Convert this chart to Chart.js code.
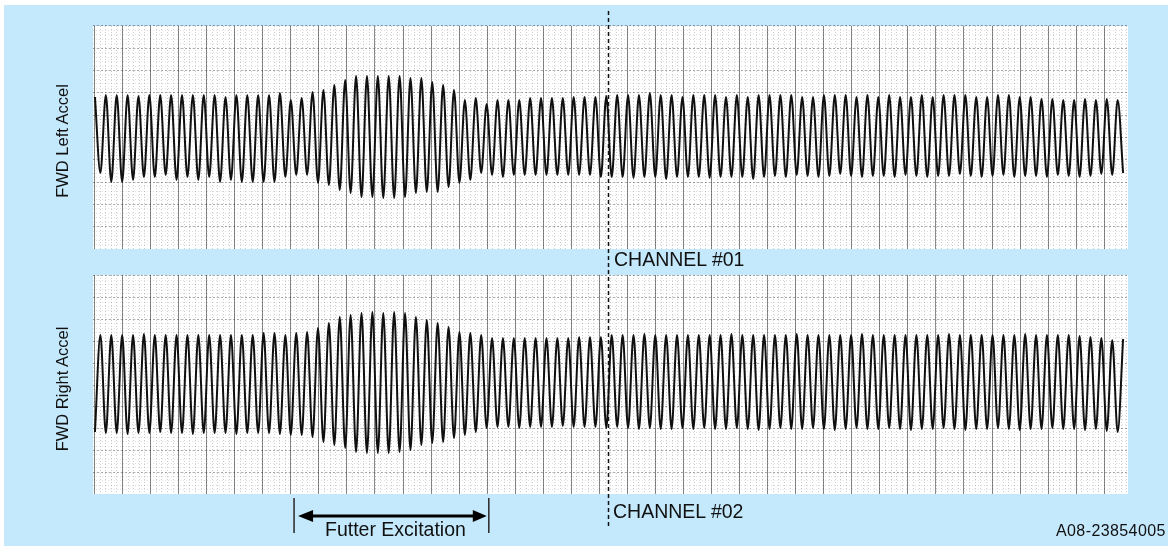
<!DOCTYPE html>
<html>
<head>
<meta charset="utf-8">
<title>FWD Accel flutter excitation</title>
<script src="https://cdn.jsdelivr.net/npm/chart.js@4"></script>
<style>
  body { margin: 0; background: #fff; width: 1168px; height: 546px; overflow: hidden; position: relative; font-family: "Liberation Sans", Arial, sans-serif; color: #111; }
  #bg { position: absolute; left: 4px; top: 5px; width: 1164px; height: 541px; background: #c5e9fc; }
  canvas { position: absolute; left: 0; }
  .lbl { position: absolute; white-space: nowrap; line-height: 1; }
  .ylbl { position: absolute; white-space: nowrap; line-height: 1; font-size: 16.5px; transform: translate(-50%, -50%) rotate(-90deg); }
</style>
</head>
<body>
<div id="bg"></div>
<canvas id="chTop" width="1168" height="270" style="top:0"></canvas>
<canvas id="chBottom" width="1168" height="276" style="top:270px"></canvas>

<div class="ylbl" style="left:61.5px; top:141px">FWD Left Accel</div>
<div class="ylbl" style="left:61.5px; top:389px">FWD Right Accel</div>
<div class="lbl" style="left:614px; top:250px; font-size:19.5px">CHANNEL #01</div>
<div class="lbl" style="left:613px; top:502px; font-size:19.5px">CHANNEL #02</div>
<div class="lbl" style="left:325px; top:520px; font-size:19.5px">Futter Excitation</div>
<div class="lbl" style="left:1056px; top:523px; font-size:16px; letter-spacing:0.4px">A08-23854005</div>

<script>
// one value per oscillation cycle (offset from the trace centre line)
const PEAKS_LEFT = [
  40, 42, 42, 42, 41, 42, 42, 42, 42, 42, 42, 42, 40, 42, 42, 42, 42,
  44, 37, 39, 45, 47, 52, 57, 61, 61, 61, 61, 61,
  59, 59, 55, 52, 47, 37, 39, 33,
  37, 37, 37, 39, 39, 39, 39, 40, 40, 40, 41, 42, 42, 42, 44, 42, 42, 40,
  42, 42, 42, 40, 42, 40, 42, 42,
  42, 42, 40, 40, 42, 42, 42, 40, 42, 40, 42, 40, 40, 42, 40, 42, 42, 42, 40, 40, 42, 42, 40, 40, 38, 38,
  37, 37, 38, 37, 38, 37
];
const TROUGHS_LEFT = [
  -36, -45, -45, -43, -40, -40, -38, -43, -40, -43, -40, -45, -43, -45, -45, -45, -45, -40, -38, -38, -46, -48, -53, -56, -60, -60,
  -61, -61, -60, -56, -55, -55, -50, -46, -43, -36, -38,
  -40, -38, -38, -38, -38, -38, -38, -38, -38, -40,
  -40, -40, -41, -40, -40, -42, -40, -40, -40, -41, -40, -40, -40, -42, -40,
  -39, -40, -38, -39, -40, -39, -37, -39, -40, -39, -39, -40, -38, -39, -40, -39, -39, -37, -39, -40, -39, -38, -40, -39, -39, -40, -38, -39, -40, -39, -37, -38, -36
];
const TROUGHS_RIGHT = [
  -48, -49, -49, -50, -49, -49, -48, -49, -49, -50, -49, -49, -49, -50, -49, -49, -49, -50,
  -51, -51, -53, -58, -61, -64, -68, -69, -69, -69, -68,
  -66, -61, -59, -58, -54, -51, -48, -44,
  -43, -43, -44, -43, -43, -43, -42, -43, -43, -43, -44, -43,
  -44, -45, -44, -45, -45, -44, -45, -44, -45, -45,
  -44, -45, -46, -45, -44, -45, -45, -44, -45, -46,
  -45, -44, -45, -45, -44, -45, -46, -45, -45, -44,
  -45, -46, -45, -45, -44, -45, -46, -45, -45, -44,
  -45, -45, -46, -45, -47, -48
];
const PEAKS_RIGHT = [
  49, 49, 49, 49, 50, 49, 49, 49, 49, 49, 49, 49, 49, 49, 49,
  51, 51, 49, 51, 52, 56, 61, 67, 69, 71, 72, 71, 72,
  71, 67, 64, 61, 57, 52, 51, 49, 46,
  46, 46, 46, 46, 46, 46, 46, 47, 47, 47,
  49, 49, 49, 50, 49, 49, 49, 49, 49, 49,
  49, 50, 49, 49, 49, 49, 49, 50, 49, 49,
  49, 49, 49, 50, 49, 49, 49, 49, 49, 49,
  49, 50, 49, 49, 49, 49, 49, 49, 50, 49,
  49, 49, 49, 48, 47, 46, 44, 45
];

// events on the time axis (in cycles)
const CHANNEL_SPLIT = 47.15;
const FLUTTER_START = 18.3;
const FLUTTER_END = 36.2;
const X_MIN = -0.18, X_MAX = 94.95;

function ticksFrom(start, step, end) {
  const t = [];
  for (let v = start; v <= end + 0.01; v += step) t.push({ value: v });
  return t;
}

function gridAxis(axis, min, max, start, step, color, dash) {
  return {
    type: 'linear', axis: axis, position: axis === 'x' ? 'bottom' : 'left',
    min: min, max: max,
    afterBuildTicks: s => { s.ticks = ticksFrom(start, step, max); },
    ticks: { display: false },
    grid: { color: color, lineWidth: 1, drawTicks: false },
    border: { display: false, dash: dash }
  };
}

const panelPlugin = {
  id: 'panel',
  beforeDraw(chart) {
    const { ctx, chartArea: a } = chart;
    ctx.save();
    ctx.fillStyle = '#fff';
    ctx.fillRect(a.left, a.top, a.width, a.height);
    ctx.restore();
  },
  afterDraw(chart, args, opts) {
    const ctx = chart.ctx;
    const x = Math.round(chart.scales.x.getPixelForValue(CHANNEL_SPLIT)) + 0.5;
    ctx.save();
    ctx.strokeStyle = '#111';
    ctx.lineWidth = 1.5;
    ctx.setLineDash([4, 3]);
    ctx.beginPath();
    ctx.moveTo(x, opts.lineTop);
    ctx.lineTo(x, opts.lineBottom);
    ctx.stroke();
    ctx.restore();

    if (!opts.arrow) return;
    const x1 = chart.scales.x.getPixelForValue(FLUTTER_START);
    const x2 = chart.scales.x.getPixelForValue(FLUTTER_END);
    const y = 246;
    ctx.save();
    ctx.strokeStyle = '#333';
    ctx.lineWidth = 1.6;
    ctx.beginPath();
    ctx.moveTo(x1, 228); ctx.lineTo(x1, 263);
    ctx.moveTo(x2, 228); ctx.lineTo(x2, 263);
    ctx.stroke();
    ctx.strokeStyle = '#000';
    ctx.lineWidth = 3;
    ctx.beginPath();
    ctx.moveTo(x1 + 16, y); ctx.lineTo(x2 - 13, y);
    ctx.stroke();
    ctx.fillStyle = '#000';
    ctx.beginPath();
    ctx.moveTo(x1 + 4, y); ctx.lineTo(x1 + 19, y - 6); ctx.lineTo(x1 + 19, y + 6); ctx.closePath();
    ctx.moveTo(x2 - 2, y); ctx.lineTo(x2 - 16, y - 6); ctx.lineTo(x2 - 16, y + 6); ctx.closePath();
    ctx.fill();
    ctx.restore();
  }
};

function makeChart(id, points, yMin, yMax, panelH, hStep, padding, panelOpts) {
  return new Chart(document.getElementById(id), {
    type: 'line',
    data: {
      datasets: [{
        data: points,
        borderColor: '#101010',
        borderWidth: 2,
        pointRadius: 0,
        cubicInterpolationMode: 'monotone',
        fill: false
      }]
    },
    options: {
      responsive: false,
      animation: false,
      devicePixelRatio: 1,
      layout: { padding: padding },
      plugins: { legend: { display: false }, tooltip: { enabled: false }, panel: panelOpts },
      scales: {
        x: { type: 'linear', min: X_MIN, max: X_MAX, display: false },
        y: { type: 'linear', min: yMin, max: yMax, display: false },
        gxMinor: gridAxis('x', 93, 1128, 94.5, 5.61, 'rgba(0,0,0,0.2)', [1, 2]),
        gyMinor: gridAxis('y', 0, panelH, hStep / 5, hStep / 5, 'rgba(0,0,0,0.12)', [1, 2]),
        gyMajor: gridAxis('y', 0, panelH, hStep, hStep, 'rgba(0,0,0,0.3)', [2, 2]),
        gxMajor: gridAxis('x', 93, 1128, 94.45, 28.05, 'rgba(40,40,40,0.55)', [])
      }
    },
    plugins: [panelPlugin]
  });
}

const topPoints = PEAKS_LEFT.flatMap((p, i) => [{ x: i, y: p }, { x: i + 0.5, y: TROUGHS_LEFT[i] }]);
const bottomPoints = TROUGHS_RIGHT.flatMap((t, i) => [{ x: i, y: t }, { x: i + 0.5, y: PEAKS_RIGHT[i] }]);

makeChart('chTop', topPoints, -112, 111, 223, 22.3,
  { left: 93, right: 40, top: 26, bottom: 21 },
  { lineTop: 11, lineBottom: 270, arrow: false });
makeChart('chBottom', bottomPoints, -110, 109, 219, 21.8,
  { left: 93, right: 40, top: 5, bottom: 52 },
  { lineTop: 0, lineBottom: 257, arrow: true });
</script>
</body>
</html>
